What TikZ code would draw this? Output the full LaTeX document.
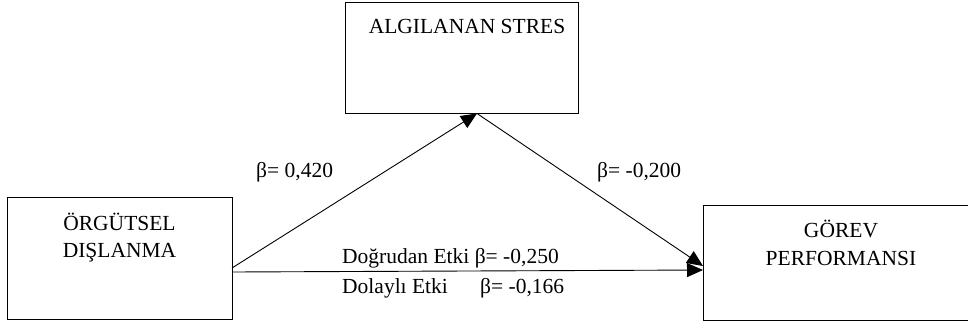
\documentclass[tikz,border=0pt]{standalone}
\usepackage{fontspec}
\setmainfont{Liberation Serif}
\usetikzlibrary{arrows.meta}
\begin{document}
\begin{tikzpicture}[x=1pt,y=-1pt,
  box/.style={draw, line width=0.9pt, inner sep=0pt, anchor=north west},
  txt/.style={font=\fontsize{21.5}{26}\selectfont, inner sep=0pt, anchor=base},
  lbl/.style={font=\fontsize{21.5}{26}\selectfont, inner sep=0pt, anchor=base west},
  arr/.style={line width=0.9pt, -{Triangle[length=16pt,width=14pt]}}]
\useasboundingbox (0,0) rectangle (968,327);
\path[clip] (0,0) rectangle (968,327);
% boxes
\node[box, minimum width=233pt, minimum height=111pt] (stres) at (345,2) {};
\node[box, minimum width=225pt, minimum height=122pt] (org) at (7,197) {};
\node[box, minimum width=276pt, minimum height=115pt] (gorev) at (703,205) {};
% box texts
\node[txt] (t1) at (467,33) {ALGILANAN STRES};
\node[txt] (t2) at (119.5,230) {ÖRGÜTSEL};
\node[txt] (t3) at (119.5,257) {DIŞLANMA};
\node[txt] (t4) at (841,237) {GÖREV};
\node[txt] (t5) at (841,265) {PERFORMANSI};
% connector end points on box borders
\coordinate (o1) at (232,268);
\coordinate (o2) at (232,272);
\coordinate (s1) at (477,113.5);
\coordinate (g1) at (703,266);
\coordinate (g2) at (703,270);
\draw[arr] (o1) -- (s1);
\draw[arr] (s1) -- (g1);
\draw[arr] (o2) -- (g2);
% labels
\node[lbl] (b1) at (256,177) {β= 0,420};
\node[lbl] (b2) at (597,177) {β= -0,200};
\node[lbl] (b3) at (342,263) {Doğrudan Etki β= -0,250};
\node[lbl] (b4) at (342,293) {\makebox[138pt][l]{Dolaylı Etki}β= -0,166};
\end{tikzpicture}
\end{document}
